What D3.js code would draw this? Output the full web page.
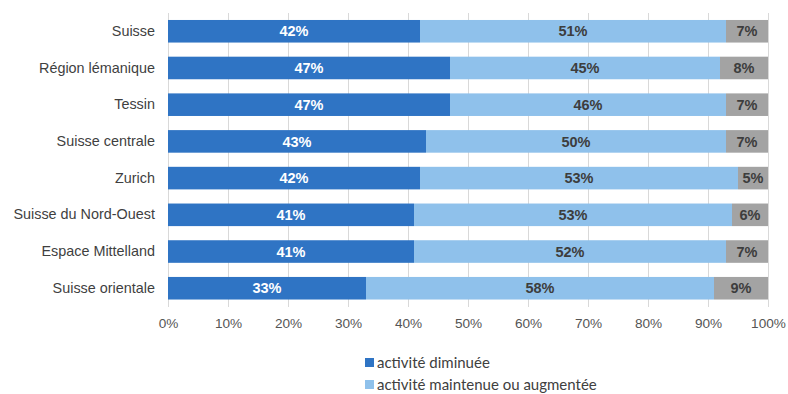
<!DOCTYPE html>
<html>
<head>
<meta charset="utf-8">
<script src="https://cdn.jsdelivr.net/npm/d3@7"></script>
<style>
  html, body { margin: 0; padding: 0; background: #ffffff; }
  svg { display: block; }
</style>
</head>
<body>
<svg id="chart" width="788" height="394"></svg>
<script>
// Regions (top to bottom) and share of firms per activity outcome (%)
const regions = [
  "Suisse", "Région lémanique", "Tessin", "Suisse centrale",
  "Zurich", "Suisse du Nord-Ouest", "Espace Mittelland", "Suisse orientale"
];
const diminuee   = [42, 47, 47, 43, 42, 41, 41, 33];
const maintenue  = [51, 45, 46, 50, 53, 53, 52, 58];
const sansReponse = [7, 8, 7, 7, 5, 6, 7, 9];

const seriesKeys = ["diminuee", "maintenue", "autre"];
const seriesNames = ["activité diminuée", "activité maintenue ou augmentée", "autre"];
const seriesColors = ["#2f74c4", "#8fc1eb", "#a3a3a3"];
const labelColors = ["#ffffff", "#3d3d3d", "#3d3d3d"];
const xTicks = [0, 10, 20, 30, 40, 50, 60, 70, 80, 90, 100];

const rows = regions.map((r, i) => ({
  region: r, diminuee: diminuee[i], maintenue: maintenue[i], autre: sansReponse[i]
}));

const svg = d3.select("#chart");
const margin = { top: 13, left: 168 };

const x = d3.scaleLinear().domain([0, 100]).range([margin.left, 768]);
const y = d3.scaleBand().domain(regions)
  .range([margin.top, 306.5]).paddingInner(0.385).paddingOuter(0.19);

// vertical gridlines
svg.append("g").selectAll("line").data(xTicks).join("line")
  .attr("x1", d => x(d) + 0.5).attr("x2", d => x(d) + 0.5)
  .attr("y1", margin.top).attr("y2", 307)
  .attr("stroke", "#d9d9d9").attr("stroke-width", 1);

// stacked bars
const stacked = d3.stack().keys(seriesKeys)(rows);
const layers = svg.append("g").selectAll("g").data(stacked).join("g")
  .attr("fill", (d, i) => seriesColors[i]);

layers.selectAll("rect").data(d => d).join("rect")
  .attr("x", d => x(d[0]))
  .attr("y", d => y(d.data.region))
  .attr("width", d => x(d[1]) - x(d[0]))
  .attr("height", y.bandwidth());

// value labels centred in each segment
stacked.forEach((layer, i) => {
  svg.append("g").selectAll("text").data(layer).join("text")
    .attr("x", d => (x(d[0]) + x(d[1])) / 2)
    .attr("y", d => y(d.data.region) + y.bandwidth() / 2)
    .attr("dy", "0.36em")
    .attr("text-anchor", "middle")
    .attr("font-family", "Arial, 'Liberation Sans', sans-serif")
    .attr("font-size", 14.5)
    .attr("font-weight", "bold")
    .attr("fill", labelColors[i])
    .text(d => (d[1] - d[0]) + "%");
});

// category axis
const yAxis = svg.append("g")
  .attr("transform", `translate(${margin.left},0)`)
  .call(d3.axisLeft(y).tickSize(0).tickPadding(13));
yAxis.select(".domain").remove();
yAxis.selectAll("text")
  .attr("font-family", "Arial, 'Liberation Sans', sans-serif")
  .attr("font-size", 14.4)
  .attr("fill", "#3f3f3f");

// percentage axis
const xAxis = svg.append("g")
  .attr("transform", `translate(0,307)`)
  .call(d3.axisBottom(x).tickValues(xTicks).tickSize(0).tickPadding(11)
    .tickFormat(d => d + "%"));
xAxis.select(".domain").remove();
xAxis.selectAll("text")
  .attr("font-family", "Arial, 'Liberation Sans', sans-serif")
  .attr("font-size", 13.6)
  .attr("fill", "#555555");

// legend
const legend = svg.append("g").attr("transform", "translate(365,358)");
const legendItems = legend.selectAll("g").data(seriesNames.slice(0, 2)).join("g")
  .attr("transform", (d, i) => `translate(0,${i * 22})`);
legendItems.append("rect")
  .attr("width", 9).attr("height", 9)
  .attr("fill", (d, i) => seriesColors[i]);
legendItems.append("text")
  .attr("x", 12).attr("y", 10)
  .attr("font-family", "Lato, 'Open Sans', sans-serif")
  .attr("font-size", 15)
  .attr("fill", "#404040")
  .text(d => d);
</script>
</body>
</html>
